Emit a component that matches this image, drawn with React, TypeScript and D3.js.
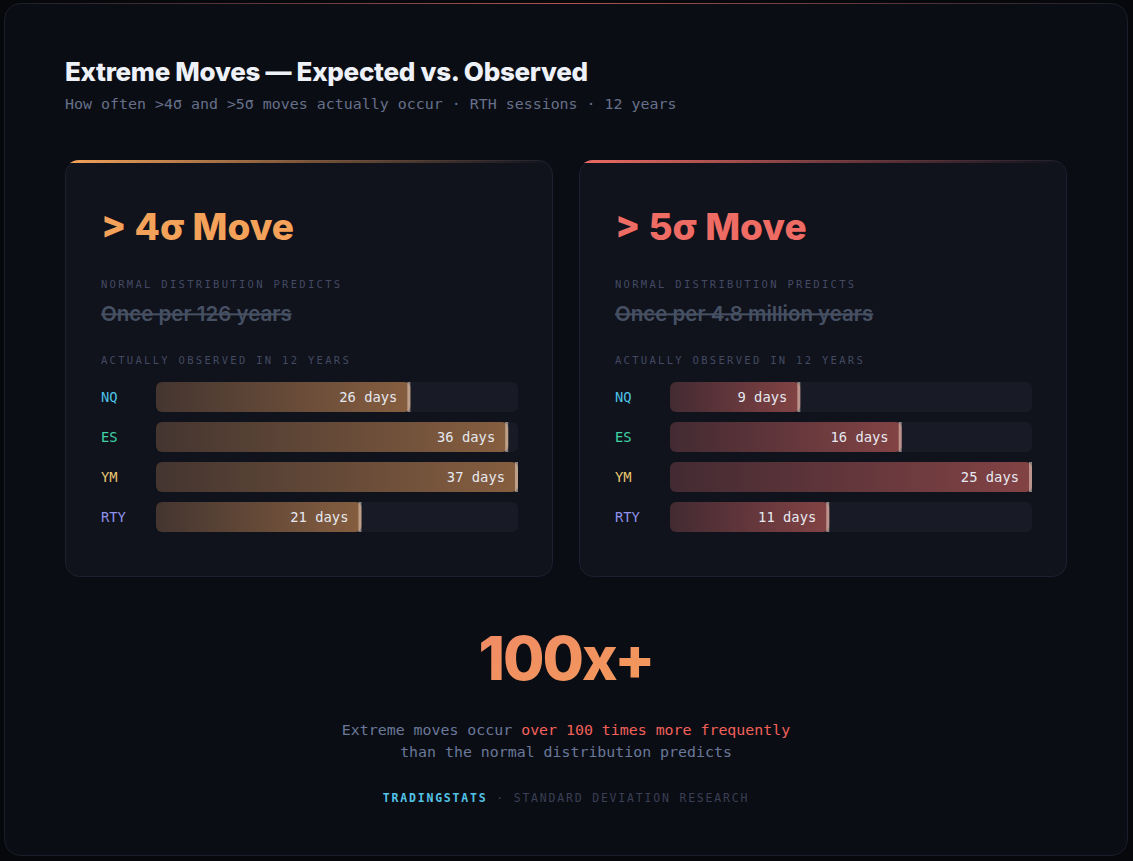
import React, { useEffect, useRef } from 'react'
import * as d3 from 'd3'

const tickers = ['NQ', 'ES', 'YM', 'RTY']
const tickerColors = ['#4cc3e6', '#3fd3a6', '#e8c770', '#8e92ec']

const days4Sigma = [26, 36, 37, 21]
const days5Sigma = [9, 16, 25, 11]

const cardTitles = ['> 4σ Move', '> 5σ Move']
const predictedTexts = ['Once per 126 years', 'Once per 4.8 million years']
const accentColors = ['#f4a259', '#ee6c63']

const WIDTH = 1133
const HEIGHT = 861
const MONO = '"DejaVu Sans Mono", monospace'
const SANS = 'Inter, "Noto Sans", sans-serif'

interface CardProps {
    x: number
    y: number
    width: number
    height: number
    title: string
    predicted: string
    values: number[]
    color: string
    id: string
}

const BarCard: React.FC<CardProps> = ({ x, y, width, height, title, predicted, values, color, id }) => {
    const gRef = useRef<SVGGElement | null>(null)

    useEffect(() => {
        const g = d3.select(gRef.current)
        g.selectAll('*').remove()

        const trackX = x + 91
        const trackW = 362

        const xScale = d3
            .scaleLinear()
            .domain([0, d3.max(values) as number])
            .range([0, trackW])

        const yScale = d3
            .scaleBand()
            .domain(tickers)
            .range([y + 222, y + 372])
            .paddingInner(0.25)

        const rows = g
            .selectAll('g.row')
            .data(values)
            .join('g')
            .attr('class', 'row')
            .attr('transform', (_d, i) => `translate(0, ${yScale(tickers[i])})`)

        const bh = yScale.bandwidth()

        // ticker label
        rows.append('text')
            .attr('x', x + 36)
            .attr('y', bh / 2)
            .attr('dy', '0.36em')
            .attr('font-family', MONO)
            .attr('font-size', 13.8)
            .attr('fill', (_d, i) => tickerColors[i])
            .text((_d, i) => tickers[i])

        // track
        rows.append('rect')
            .attr('x', trackX)
            .attr('width', trackW)
            .attr('height', bh)
            .attr('rx', 6)
            .attr('fill', '#181a26')

        // filled bar
        rows.append('rect')
            .attr('x', trackX)
            .attr('width', (d) => xScale(d))
            .attr('height', bh)
            .attr('rx', 6)
            .attr('fill', `url(#bar-${id})`)

        // end cap
        rows.append('rect')
            .attr('x', (d) => trackX + xScale(d) - 3)
            .attr('width', 3)
            .attr('height', bh)
            .attr('fill', 'rgba(235, 215, 200, 0.55)')

        // value label
        rows.append('text')
            .attr('x', (d) => trackX + xScale(d) - 13)
            .attr('y', bh / 2)
            .attr('dy', '0.36em')
            .attr('text-anchor', 'end')
            .attr('font-family', MONO)
            .attr('font-size', 13.8)
            .attr('fill', '#e6e9f0')
            .text((d) => `${d} days`)
    }, [x, y, values, id])

    return (
        <g>
            <defs>
                <clipPath id={`clip-${id}`}>
                    <rect x={x} y={y} width={width} height={height} rx={14} />
                </clipPath>
                <linearGradient id={`accent-${id}`} x1="0" x2="1" y1="0" y2="0">
                    <stop offset="0" stopColor={color} stopOpacity={1} />
                    <stop offset="0.5" stopColor={color} stopOpacity={0.45} />
                    <stop offset="1" stopColor={color} stopOpacity={0} />
                </linearGradient>
                <linearGradient id={`bar-${id}`} x1="0" x2="1" y1="0" y2="0">
                    <stop offset="0" stopColor={color} stopOpacity={0.2} />
                    <stop offset="1" stopColor={color} stopOpacity={0.5} />
                </linearGradient>
            </defs>
            <rect x={x + 0.5} y={y + 0.5} width={width - 1} height={height - 1} rx={14} fill="#10121c" stroke="#1d2030" />
            <rect x={x} y={y} width={width} height={3} fill={`url(#accent-${id})`} clipPath={`url(#clip-${id})`} />
            <text x={x + 36} y={y + 80} fontFamily={SANS} fontWeight={800} fontSize={37} fill={color} letterSpacing={0}>
                {title}
            </text>
            <text x={x + 36} y={y + 128} fontFamily={MONO} fontSize={10.5} letterSpacing={2.3} fill="#434a62">
                NORMAL DISTRIBUTION PREDICTS
            </text>
            <text x={x + 36} y={y + 161} fontFamily={SANS} fontWeight={600} fontSize={20.5} fill="#465063" letterSpacing={0} textDecoration="line-through">
                {predicted}
            </text>
            <text x={x + 36} y={y + 204} fontFamily={MONO} fontSize={10.5} letterSpacing={2.3} fill="#434a62">
                ACTUALLY OBSERVED IN 12 YEARS
            </text>
            <g ref={gRef} />
        </g>
    )
}

export default function App() {
    useEffect(() => {
        document.body.style.margin = '0'
        document.body.style.background = '#07080c'
    }, [])

    const cardW = 488
    const cardH = 417
    const cardY = 160
    const cardXs = [65, 579]
    const series = [days4Sigma, days5Sigma]

    return (
        <svg width={WIDTH} height={HEIGHT} style={{ display: 'block' }}>
            <defs>
                <linearGradient id="topEdge" x1="0" x2="1" y1="0" y2="0">
                    <stop offset="0" stopColor="#ee6c63" stopOpacity={0} />
                    <stop offset="0.5" stopColor="#ee6c63" stopOpacity={0.7} />
                    <stop offset="1" stopColor="#ee6c63" stopOpacity={0} />
                </linearGradient>
                <linearGradient id="bigNum" x1="0" x2="1" y1="0" y2="1">
                    <stop offset="0" stopColor="#f08a66" />
                    <stop offset="1" stopColor="#f29a5a" />
                </linearGradient>
                <clipPath id="frameClip">
                    <rect x={4} y={3} width={1124} height={853} rx={16} />
                </clipPath>
            </defs>
            <rect width={WIDTH} height={HEIGHT} fill="#07080c" />
            <rect x={4.5} y={3.5} width={1123} height={852} rx={16} fill="#0b0d14" stroke="#1b1e2a" />
            <rect x={4} y={3} width={1124} height={1} fill="url(#topEdge)" clipPath="url(#frameClip)" />

            <text x={65} y={81} fontFamily={SANS} fontWeight={800} fontSize={26} fill="#eef2f8" letterSpacing={-0.3}>
                Extreme Moves — Expected vs. Observed
            </text>
            <text x={65} y={109} fontFamily={MONO} fontSize={14.95} fill="#66708a">
                How often &gt;4σ and &gt;5σ moves actually occur · RTH sessions · 12 years
            </text>

            {cardXs.map((cx, i) => (
                <BarCard
                    key={i}
                    id={`c${i}`}
                    x={cx}
                    y={cardY}
                    width={cardW}
                    height={cardH}
                    title={cardTitles[i]}
                    predicted={predictedTexts[i]}
                    values={series[i]}
                    color={accentColors[i]}
                />
            ))}

            <text x={566} y={680} textAnchor="middle" fontFamily={SANS} fontWeight={800} fontSize={60} letterSpacing={-2} fill="url(#bigNum)">
                100x+
            </text>
            <text x={566} y={735} textAnchor="middle" fontFamily={MONO} fontSize={14.9} fill="#6a7899">
                Extreme moves occur <tspan fill="#f2615a">over 100 times more frequently</tspan>
            </text>
            <text x={566} y={757} textAnchor="middle" fontFamily={MONO} fontSize={14.9} fill="#6a7899">
                than the normal distribution predicts
            </text>
            <text x={566} y={802} textAnchor="middle" fontFamily={MONO} fontSize={11.5} letterSpacing={1.8} fill="#3a3f55">
                <tspan fill="#52c3e6" fontWeight={700}>TRADINGSTATS</tspan> · STANDARD DEVIATION RESEARCH
            </text>
        </svg>
    )
}
